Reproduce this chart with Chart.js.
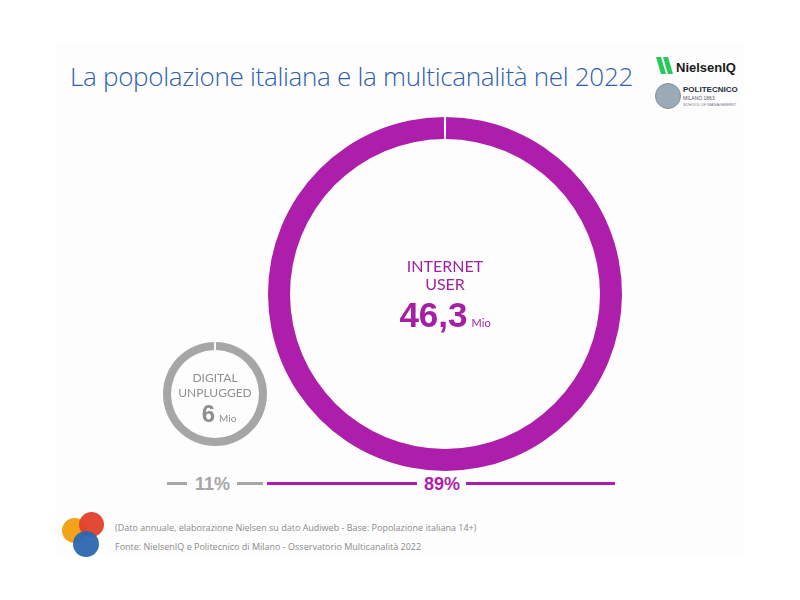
<!DOCTYPE html>
<html>
<head>
<meta charset="utf-8">
<script src="https://cdn.jsdelivr.net/npm/chart.js@4"></script>
<style>
  body { margin:0; width:800px; height:600px; background:#fff; position:relative; overflow:hidden; font-family:"Open Sans", sans-serif; }
  .abs { position:absolute; white-space:nowrap; }
  .slide { left:55px; top:43px; width:688px; height:512px; background:#fdfdfd; }
  .title { left:70px; top:58px; font-family:"Open Sans"; font-weight:300; font-size:26px; color:#2f5fae; letter-spacing:-0.3px; }
  .ctr { text-align:center; }
  .lbl-purple { color:#a51ea3; font-family:Lato, sans-serif; }
  .lbl-gray { color:#8f8f8f; font-family:Lato, sans-serif; }
  .num { font-family:"Liberation Sans", Arial, sans-serif; font-weight:bold; }
  .mio { font-family:Lato, sans-serif; font-weight:normal; }
  .line { height:3px; }
  .foot { left:115px; font-size:9px; color:#8a8a8a; }
  .dot { border-radius:50%; }
</style>
</head>
<body>
<div class="abs slide"></div>
<div class="abs title">La popolazione italiana e la multicanalità nel 2022</div>

<!-- logos -->
<div class="abs" style="left:656px;top:57px;width:20px;height:17px">
  <svg width="20" height="17"><path d="M0 0 L5 0 L10 17 L5 17 Z" fill="#27c95a"/><path d="M7 0 L12 0 L17 17 L12 17 Z" fill="#27c95a"/></svg>
</div>
<div class="abs" style="left:676px;top:60px;font-family:'Liberation Sans';font-weight:bold;font-size:13px;color:#1a1a1a">NielsenIQ</div>
<div class="abs dot" style="left:655px;top:83px;width:24px;height:24px;background:#9aaab6;border:1px solid #7f8f9c"></div>
<div class="abs" style="left:683px;top:85px;font-family:'Liberation Sans';font-weight:bold;font-size:8px;color:#1f2d3a">POLITECNICO</div>
<div class="abs" style="left:683px;top:95px;font-family:'Liberation Sans';font-size:5px;color:#556">MILANO 1863</div>
<div class="abs" style="left:683px;top:102px;font-family:'Liberation Sans';font-size:4px;color:#778">SCHOOL OF MANAGEMENT</div>

<canvas id="bigRing" class="abs" width="360" height="360" style="left:265px;top:114px"></canvas>
<canvas id="smallRing" class="abs" width="110" height="110" style="left:160px;top:339px"></canvas>

<div id="bigLabel" class="abs ctr lbl-purple" style="left:345px;top:257px;width:200px"></div>
<div id="smallLabel" class="abs ctr lbl-gray" style="left:155px;top:370px;width:120px"></div>

<div id="shareRow"></div>

<!-- footer -->
<div class="abs dot" style="left:62px;top:518px;width:25px;height:25px;background:#f2a31b"></div>
<div class="abs dot" style="left:79px;top:512px;width:25px;height:25px;background:#e0402a;opacity:0.95"></div>
<div class="abs dot" style="left:73px;top:531px;width:26px;height:26px;background:#2d66b0;opacity:0.95"></div>
<div class="abs foot" style="top:521px">(Dato annuale, elaborazione Nielsen su dato Audiweb - Base: Popolazione italiana 14+)</div>
<div class="abs foot" style="top:540px">Fonte: NielsenIQ e Politecnico di Milano - Osservatorio Multicanalità 2022</div>

<script>
// segments of the population, 2022
const segments = ['INTERNET USER', 'DIGITAL UNPLUGGED'];
const populationMio = [46.3, 6];
const sharePct = [89, 11];

const PURPLE = '#ad1fab';
const GRAY = '#a6a6a6';

function ringChart(id, idx, color, cutout, gapDeg) {
    new Chart(document.getElementById(id), {
        type: 'doughnut',
        data: {
            labels: [segments[idx]],
            datasets: [{ data: [populationMio[idx]], backgroundColor: color, borderWidth: 0, hoverBorderWidth: 0, hoverOffset: 0 }]
        },
        options: {
            responsive: false, animation: false,
            rotation: gapDeg / 2, circumference: 360 - gapDeg,
            cutout: cutout,
            layout: { padding: 3 },
            plugins: { legend: { display: false }, tooltip: { enabled: false } }
        }
    });
}
ringChart('bigRing', 0, PURPLE, 155, 0.7);
ringChart('smallRing', 1, GRAY, 44, 2.4);

const fmt = v => v.toLocaleString('it-IT');
const words = s => s.split(' ');

// centre labels
const [w1, w2] = words(segments[0]);
document.getElementById('bigLabel').innerHTML =
    `<div style="font-size:16px;line-height:18px">${w1}</div>` +
    `<div style="font-size:16px;line-height:18px">${w2}</div>` +
    `<div style="margin-top:2px"><span class="num" style="font-size:35px">${fmt(populationMio[0])}</span> <span class="mio" style="font-size:11px">Mio</span></div>`;
const [g1, g2] = words(segments[1]);
document.getElementById('smallLabel').innerHTML =
    `<div style="font-size:12px;line-height:15px">${g1}</div>` +
    `<div style="font-size:12px;line-height:15px">${g2}</div>` +
    `<div style="margin-top:0px;margin-left:8px"><span class="num" style="font-size:24px">${fmt(populationMio[1])}</span> <span class="mio" style="font-size:10px">Mio</span></div>`;

// share row under the rings
const row = document.getElementById('shareRow');
row.innerHTML =
    `<div class="abs line" style="left:167px;top:482px;width:20px;background:${GRAY}"></div>` +
    `<div class="abs num" style="left:195px;top:474px;font-size:18px;color:${GRAY}">${sharePct[1]}%</div>` +
    `<div class="abs line" style="left:237px;top:482px;width:26px;background:${GRAY}"></div>` +
    `<div class="abs line" style="left:267px;top:482px;width:150px;background:${PURPLE}"></div>` +
    `<div class="abs num" style="left:424px;top:474px;font-size:18px;color:${PURPLE}">${sharePct[0]}%</div>` +
    `<div class="abs line" style="left:466px;top:482px;width:149px;background:${PURPLE}"></div>`;
</script>
</body>
</html>
